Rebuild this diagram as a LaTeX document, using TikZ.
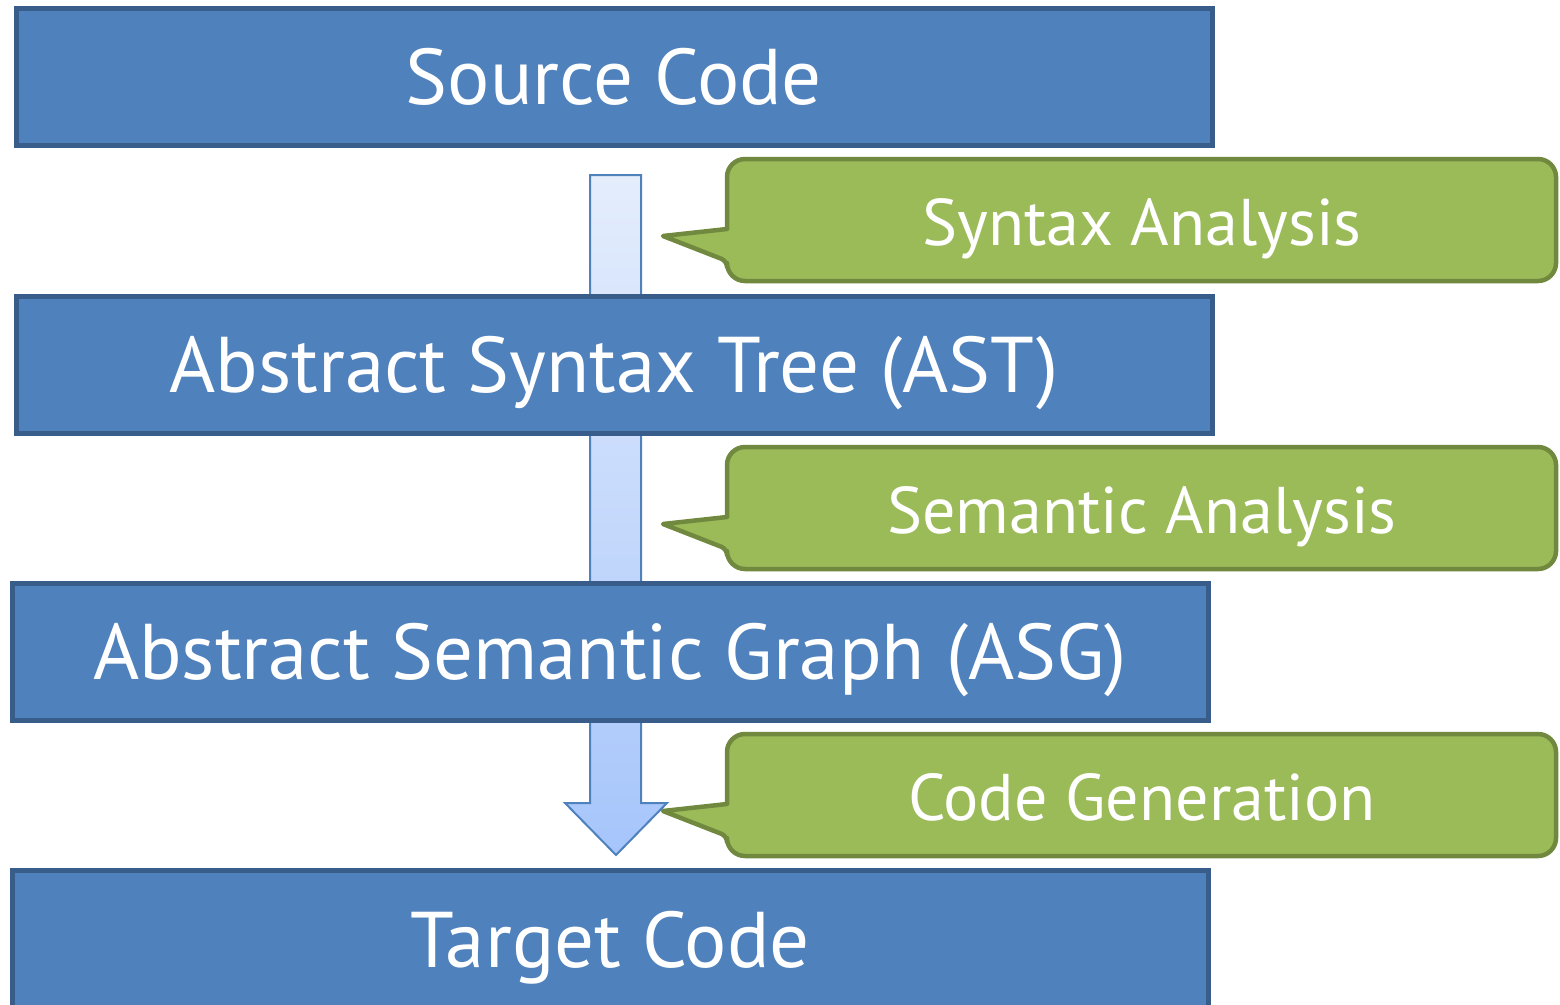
\documentclass[tikz,border=0pt]{standalone}
\usepackage{fontspec}
\setmainfont{PT Sans}
\definecolor{boxfill}{HTML}{4F81BD}
\definecolor{boxline}{HTML}{385D8A}
\definecolor{calfill}{HTML}{9BBB59}
\definecolor{calline}{HTML}{71893F}
\definecolor{arrtop}{HTML}{E4EDFC}
\definecolor{arrbot}{HTML}{A6C5FB}
\definecolor{arrline}{HTML}{4F81BD}
\tikzset{
  stagebox/.style={draw=boxline, fill=boxfill, line width=5pt, text=white,
    minimum width=1196pt, minimum height=137pt, inner sep=0pt,
    text height=56pt, text depth=0pt,
    font=\fontsize{79}{83}\selectfont},
  calloutshape/.style={draw=calline, fill=calfill, line width=4.5pt, line join=round},
  callouttext/.style={text=white, inner sep=0pt, text height=50pt, text depth=0pt,
    font=\fontsize{66}{70}\selectfont},
}
\begin{document}
\begin{tikzpicture}[x=1pt,y=-1pt]
\useasboundingbox (0,0) rectangle (1560,1004);
\clip (0,0) rectangle (1560,1004);
% big arrow
\shade[top color=arrtop, bottom color=arrbot, draw=arrline, line width=2pt]
  (590,175) -- (641,175) -- (641,803) -- (667,803) -- (616,855) -- (565,803) -- (590,803) -- cycle;
% stage boxes
\node[stagebox] (src) at (614,76.5) {Source Code};
\node[stagebox] (ast) at (614,364.5) {Abstract Syntax Tree (AST)};
\node[stagebox] (asg) at (610,651.5) {Abstract Semantic Graph (ASG)};
\node[stagebox] (tgt) at (610,939) {Target Code};
% callouts
\foreach \yo/\nm/\txt in {0/syn/Syntax Analysis, 288/sem/Semantic Analysis, 575/gen/Code Generation}{
  \begin{scope}[yshift=-\yo pt]
  \draw[calloutshape] (727,229) [rounded corners=18pt] -- (727,159) -- (1556,159) -- (1556,281) -- (727,281) [rounded corners=6pt] -- (727,261) [sharp corners] -- (663,236) -- (727,229) -- cycle;
  \node[callouttext] (\nm) at (1142,220) {\txt};
  \end{scope}
}
\end{tikzpicture}
\end{document}
